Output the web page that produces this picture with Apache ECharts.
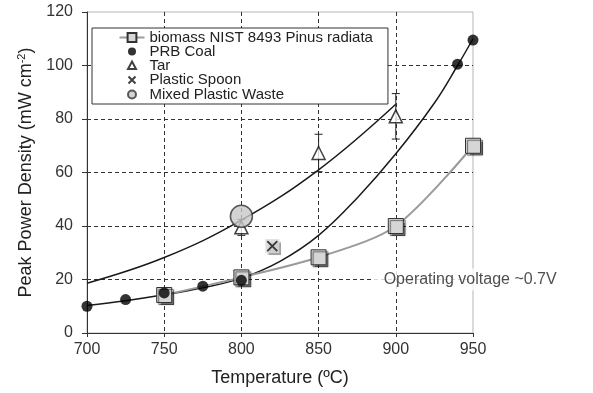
<!DOCTYPE html>
<html><head><meta charset="utf-8">
<script src="https://cdn.jsdelivr.net/npm/echarts@6/dist/echarts.min.js"></script>
<style>html,body{margin:0;padding:0;background:#fff}#c{width:593px;height:393px}</style>
</head><body><div id="c"></div>
<script>
// ---- data ----
const xTicks = [700, 750, 800, 850, 900, 950];
const yTicks = [0, 20, 40, 60, 80, 100, 120];

const biomassT = [750, 800, 850, 900, 950];
const biomassV = [14.2, 20.8, 28.3, 40, 70];

const coalT = [700, 725, 750, 775, 800, 940, 950];
const coalV = [10, 12.5, 15, 17.5, 19.7, 100.5, 109.5];

const tarT = [800, 850, 900];
const tarV = [39.5, 67.3, 81];
const tarErr = [3, 7, 8.5];

const spoonT = [820];
const spoonV = [32.5];

const mixedT = [800];
const mixedV = [43.6];

// fitted trend curves
const coalFitT = [700, 725, 750, 775, 800, 825, 850, 875, 900, 925, 940, 950];
const coalFitV = [10.3, 12.1, 14.3, 16.9, 20.5, 26.8, 36.5, 50.5, 67, 86, 100, 110];
const upperFitT = [700, 750, 800, 850, 900];
const upperFitV = [18.6, 28.2, 42.2, 61, 85.5];

const noteT = [885];
const noteV = [20];
const noteText = 'Operating voltage ~0.7V';

const legendNames = ['biomass NIST 8493 Pinus radiata', 'PRB Coal', 'Tar', 'Plastic Spoon', 'Mixed Plastic Waste'];

const zip = (a, b) => a.map((v, i) => [v, b[i]]);

const chart = echarts.init(document.getElementById('c'), null, {renderer: 'canvas'});
const font = 'Liberation Sans, Arial, sans-serif';

// legend icons: invisible moveTo corners keep the 25x11 box so shapes are not stretched
const box = 'path://M0,0M25,11';
const icoCircle = box + 'M8.5,5.5A4,4 0 1 1 16.5,5.5A4,4 0 1 1 8.5,5.5Z';
const icoTri = box + 'M12.5,1.5L16.5,9L8.5,9Z';
const icoX = box + 'M9,2L16,9M16,2L9,9';

const option = {
  animation: false,
  textStyle: {fontFamily: font},
  grid: {left: 87, right: 120, top: 12, bottom: 60, show: true, borderColor: '#b5b5b5', borderWidth: 1},
  xAxis: {
    type: 'value', min: 700, max: 950, interval: 50,
    name: 'Temperature (ºC)', nameLocation: 'middle', nameGap: 36,
    nameTextStyle: {fontSize: 18, color: '#222', fontFamily: font},
    axisLine: {lineStyle: {color: '#333', width: 1}},
    axisTick: {show: true, length: 4, lineStyle: {color: '#333'}},
    axisLabel: {fontSize: 16, color: '#333', margin: 9, fontFamily: font},
    splitLine: {show: true, showMinLine: false, showMaxLine: false, lineStyle: {color: '#333', type: [4, 3], width: 1}}
  },
  yAxis: {
    type: 'value', min: 0, max: 120, interval: 20,
    name: 'Peak Power Density (mW cm{sup|-2})', nameLocation: 'middle', nameGap: 50, nameRotate: 90,
    nameTextStyle: {fontSize: 18, color: '#222', fontFamily: font,
      rich: {sup: {fontSize: 11, color: '#222', padding: [0, 0, 9, 0], fontFamily: font}}},
    axisLine: {show: true, lineStyle: {color: '#333', width: 1}},
    axisTick: {show: true, length: 5, lineStyle: {color: '#333'}},
    axisLabel: {fontSize: 16, color: '#333', margin: 14, fontFamily: font},
    splitLine: {show: true, showMinLine: false, showMaxLine: false, lineStyle: {color: '#333', type: [4, 3], width: 1}}
  },
  legend: {
    orient: 'vertical', left: 92, top: 28,
    padding: [2, 15, 2, 25], itemGap: -1, itemWidth: 25, itemHeight: 11,
    borderColor: '#333', borderWidth: 1, backgroundColor: '#fff',
    textStyle: {fontSize: 15, color: '#222', fontFamily: font, lineHeight: 14},
    data: [
      {name: legendNames[0]},
      {name: legendNames[1], icon: icoCircle},
      {name: legendNames[2], icon: icoTri},
      {name: legendNames[3], icon: icoX},
      {name: legendNames[4], icon: icoCircle}
    ]
  },
  series: [
    {
      name: 'coalFit', type: 'line', data: zip(coalFitT, coalFitV), smooth: 0.4,
      symbol: 'none', lineStyle: {color: '#1a1a1a', width: 1.5}, z: 2, silent: true
    },
    {
      name: 'upperFit', type: 'line', data: zip(upperFitT, upperFitV), smooth: 0.4,
      symbol: 'none', lineStyle: {color: '#1a1a1a', width: 1.5}, z: 2, silent: true
    },
    {
      name: 'tarErr', type: 'custom', z: 3, silent: true,
      data: tarT.map((t, i) => [t, tarV[i] - tarErr[i], tarV[i] + tarErr[i]]),
      renderItem: function (params, api) {
        const lo = api.coord([api.value(0), api.value(1)]);
        const hi = api.coord([api.value(0), api.value(2)]);
        const w = 4;
        const st = {stroke: '#222', lineWidth: 1};
        return {type: 'group', children: [
          {type: 'line', shape: {x1: lo[0], y1: lo[1], x2: hi[0], y2: hi[1]}, style: st},
          {type: 'line', shape: {x1: lo[0] - w, y1: lo[1], x2: lo[0] + w, y2: lo[1]}, style: st},
          {type: 'line', shape: {x1: hi[0] - w, y1: hi[1], x2: hi[0] + w, y2: hi[1]}, style: st}
        ]};
      }
    },
    {
      name: legendNames[0], type: 'line', data: zip(biomassT, biomassV), smooth: 0.3,
      symbol: 'rect', symbolSize: 15,
      lineStyle: {color: '#9a9a9a', width: 2},
      itemStyle: {color: '#d6d6d6', borderColor: '#333', borderWidth: 1,
        shadowColor: 'rgba(0,0,0,0.55)', shadowOffsetX: 2, shadowOffsetY: 2, shadowBlur: 1},
      z: 4
    },
    {
      name: legendNames[1], type: 'scatter', data: zip(coalT, coalV), symbol: 'circle', symbolSize: 11,
      itemStyle: {color: '#000', borderColor: '#000', borderWidth: 0}, z: 5
    },
    {
      name: legendNames[2], type: 'scatter', data: zip(tarT, tarV), symbol: 'triangle', symbolSize: 13,
      itemStyle: {color: '#fff', borderColor: '#111', borderWidth: 1.5}, z: 6
    },
    {
      name: 'spoonBg', type: 'scatter', data: zip(spoonT, spoonV), symbol: 'rect', symbolSize: 14,
      itemStyle: {color: '#d9d9d9', shadowColor: 'rgba(0,0,0,0.45)', shadowOffsetX: 2, shadowOffsetY: 2, shadowBlur: 1},
      z: 5, silent: true
    },
    {
      name: legendNames[3], type: 'scatter', data: zip(spoonT, spoonV),
      symbol: 'path://M0,0L10,10M10,0L0,10', symbolSize: 10,
      itemStyle: {color: 'none', borderColor: '#111', borderWidth: 1.8}, z: 6
    },
    {
      name: legendNames[4], type: 'scatter', data: zip(mixedT, mixedV), symbol: 'circle', symbolSize: 22,
      itemStyle: {color: '#c8c8c8', borderColor: '#333', borderWidth: 1.5}, z: 7
    },
    {
      name: 'note', type: 'scatter', data: zip(noteT, noteV), symbolSize: 0, silent: true, z: 8,
      label: {show: true, position: 'right', distance: 0, formatter: noteText,
        fontSize: 16, color: '#222', fontFamily: font, backgroundColor: '#fff', padding: [3, 4, 3, 11]}
    }
  ]
};
chart.setOption(option);
</script></body></html>
